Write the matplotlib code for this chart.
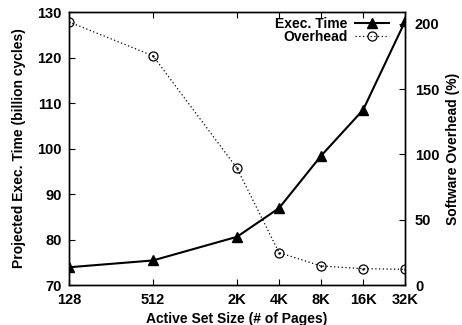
import numpy as np
import matplotlib
matplotlib.use("Agg")
import matplotlib.pyplot as plt
from matplotlib.ticker import FixedLocator, NullLocator

plt.rcParams['font.family'] = ['Liberation Sans', 'DejaVu Sans']
plt.rcParams['font.weight'] = 'bold'

# active set size in pages
pages = [128, 512, 2048, 4096, 8192, 16384, 32768]
page_labels = ["128", "512", "2K", "4K", "8K", "16K", "32K"]

# projected execution time (billion cycles)
exec_time = [73.9, 75.4, 80.6, 86.9, 98.4, 108.5, 128.0]
# software overhead (%)
overhead = [201.5, 175.5, 89.4, 24.8, 14.6, 12.5, 12.0]

fig = plt.figure(figsize=(4.62, 3.25), dpi=100)
ax = fig.add_axes([0.149, 0.123, 0.728, 0.840])
ax2 = ax.twinx()

l1, = ax.plot(pages, exec_time, color='k', lw=1.5, marker='^', ms=6.5,
              mfc='k', mec='k', label='Exec. Time')
l2, = ax2.plot(pages, overhead, color='k', lw=0.9, ls=(0, (1, 2)),
               marker='o', ms=6.5, mfc='none', mec='k', mew=0.9, label='Overhead')
ax2.plot(pages, overhead, ls='none', marker='.', ms=1.5, color='k')

ax.set_xscale('log', base=2)
ax.set_xlim(128, 32768)
ax.set_ylim(70, 130)
ax2.set_ylim(0, 209)

ax.xaxis.set_major_locator(FixedLocator(pages))
ax.xaxis.set_minor_locator(NullLocator())
ax.set_xticklabels(page_labels)
ax.set_yticks(np.arange(70, 131, 10))
ax2.set_yticks(np.arange(0, 201, 50))

ax.tick_params(axis='both', direction='in', length=4, width=0.8,
               labelsize=10.5, top=True)
ax.tick_params(axis='x', pad=6)
ax.tick_params(axis='y', right=False, pad=5)
ax2.tick_params(axis='y', direction='in', length=4, width=0.8,
                labelsize=10.5, pad=7)
for a in (ax, ax2):
    for s in a.spines.values():
        s.set_linewidth(1.0)
    for lab in a.get_xticklabels() + a.get_yticklabels():
        lab.set_fontweight('bold')

ax.set_xlabel("Active Set Size (# of Pages)", fontsize=10, fontweight='bold',
              labelpad=3)
ax.set_ylabel("Projected Exec. Time (billion cycles)", fontsize=10,
              fontweight='bold', labelpad=8)
ax2.set_ylabel("Software Overhead (%)", fontsize=10, fontweight='bold',
               labelpad=5)

leg = ax2.legend([l1, l2], ['Exec. Time', 'Overhead'], loc='upper right',
                 bbox_to_anchor=(0.982, 1.018), frameon=False, markerfirst=False,
                 fontsize=10, handlelength=2.5, handletextpad=0.5,
                 labelspacing=-0.05, borderpad=0.2)
for t in leg.get_texts():
    t.set_fontweight('bold')
    t.set_ha('right')

fig.savefig("out.png", dpi=100)
